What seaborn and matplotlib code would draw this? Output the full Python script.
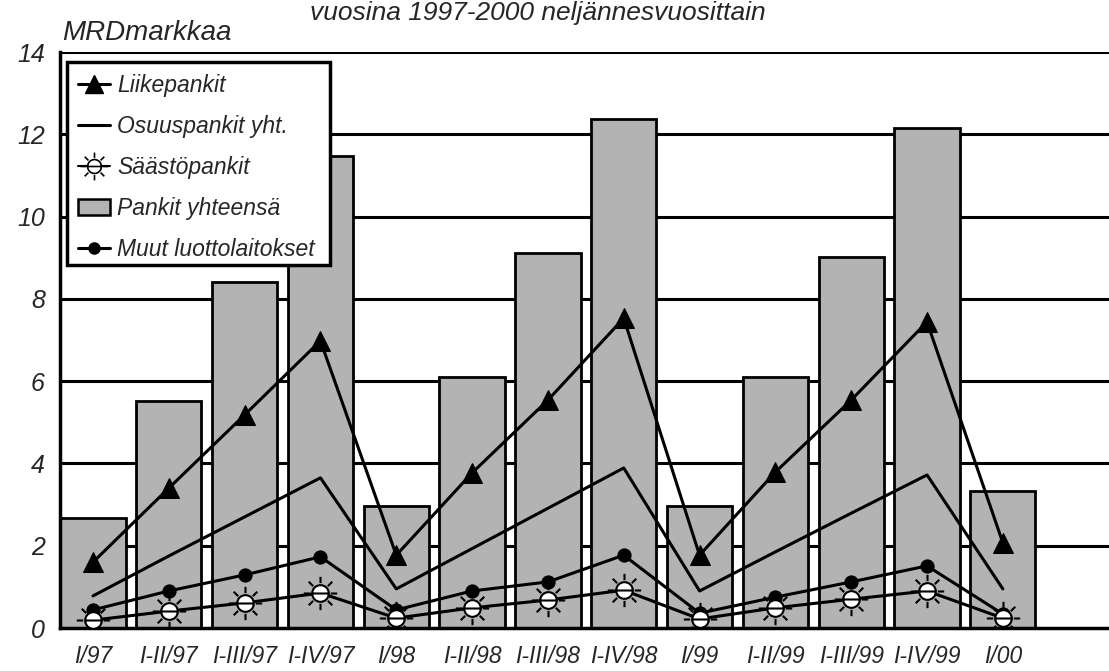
import numpy as np
import pandas as pd
import matplotlib
matplotlib.use("Agg")
import matplotlib.pyplot as plt
from matplotlib.path import Path
from matplotlib.lines import Line2D
from matplotlib.patches import Patch, Rectangle
import seaborn as sns

categories = ["I/97", "I-II/97", "I-III/97", "I-IV/97",
              "I/98", "I-II/98", "I-III/98", "I-IV/98",
              "I/99", "I-II/99", "I-III/99", "I-IV/99", "I/00"]
pankit_yhteensa = [2.67, 5.52, 8.41, 11.47, 2.97, 6.10, 9.12, 12.37,
                   2.97, 6.10, 9.02, 12.15, 3.33]
liikepankit = [1.60, 3.40, 5.18, 6.98, 1.77, 3.77, 5.54, 7.53,
               1.77, 3.79, 5.54, 7.44, 2.07]
osuuspankit = [0.78, 1.75, 2.70, 3.65, 0.95, 1.93, 2.91, 3.89,
               0.90, 1.85, 2.79, 3.72, 0.95]
saastopankit = [0.19, 0.41, 0.61, 0.85, 0.24, 0.49, 0.68, 0.92,
                0.22, 0.49, 0.70, 0.90, 0.24]
muut = [0.44, 0.90, 1.29, 1.73, 0.44, 0.90, 1.12, 1.77,
        0.36, 0.75, 1.12, 1.51, 0.34]
yticks = [0, 2, 4, 6, 8, 10, 12, 14]
title_text = "vuosina 1997-2000 neljännesvuosittain"
ylabel_text = "MRDmarkkaa"
legend_labels = ["Liikepankit", "Osuuspankit yht.", "Säästöpankit",
                 "Pankit yhteensä", "Muut luottolaitokset"]

sns.set_style("white")
FONT = ["Liberation Sans Narrow", "Liberation Sans", "DejaVu Sans"]
plt.rcParams["font.family"] = FONT
plt.rcParams["font.style"] = "italic"

W, H = 1109, 671
fig = plt.figure(figsize=(W / 100, H / 100), dpi=100)
ax_l, ax_r, ax_t, ax_b = 60, W, 52, 628
ax = fig.add_axes([ax_l / W, 1 - ax_b / H, (ax_r - ax_l) / W, (ax_b - ax_t) / H])

df = pd.DataFrame({"cat": categories, "total": pankit_yhteensa})
bar_color = "#b3b3b3"
sns.barplot(data=df, x="cat", y="total", order=categories, color=bar_color,
            width=0.86, edgecolor="black", linewidth=2.0, saturation=1,
            ax=ax, zorder=2)

# sun marker for Säästöpankit
r = 0.5
segs_v, segs_c = [], []
segs_v += [(-r, 0), (r, 0)]
segs_c += [Path.MOVETO, Path.LINETO]
for ang in np.deg2rad(np.arange(0, 360, 45)):
    segs_v += [(0.62 * np.cos(ang), 0.62 * np.sin(ang)),
               (1.0 * np.cos(ang), 1.0 * np.sin(ang))]
    segs_c += [Path.MOVETO, Path.LINETO]
sun = Path.make_compound_path(Path.circle((0, 0), r), Path(segs_v, segs_c))

xpos = np.arange(len(categories))
lw = 2.2
sns.lineplot(x=xpos, y=osuuspankit, ax=ax, color="black", lw=lw, zorder=4)
sns.lineplot(x=xpos, y=muut, ax=ax, color="black", lw=lw, marker="o",
             markersize=9.5, markerfacecolor="black", markeredgecolor="black", zorder=5)
sns.lineplot(x=xpos, y=saastopankit, ax=ax, color="black", lw=lw, marker=sun,
             markersize=24, markerfacecolor="white", markeredgecolor="black",
             markeredgewidth=1.5, zorder=6)
sns.lineplot(x=xpos, y=liikepankit, ax=ax, color="black", lw=lw, marker="^",
             markersize=15, markerfacecolor="black", markeredgecolor="black", zorder=7)

ax.set_xlim(-0.435, 13.4)
ax.set_ylim(0, 14)
ax.set_yticks(yticks)
ax.set_yticklabels([str(t) for t in yticks])
ax.set_xticks(xpos)
ax.set_xticklabels(categories)
ax.set_xlabel("")
ax.set_ylabel("")
for t in yticks[1:]:
    ax.axhline(t, color="black", lw=2.2, zorder=1)
ax.tick_params(axis="both", length=0)
ax.tick_params(axis="x", pad=12, labelsize=16.5)
ax.tick_params(axis="y", pad=11, labelsize=18)
for lab in ax.get_xticklabels() + ax.get_yticklabels():
    lab.set_fontstyle("italic")
    lab.set_family(FONT)
for side in ["left", "bottom"]:
    ax.spines[side].set_linewidth(2.5)
    ax.spines[side].set_color("black")
ax.spines["top"].set_visible(False)
ax.spines["right"].set_visible(False)

# legend box (frame drawn separately to match the reference's wider box)
def ax_frac(px, py):
    return ((px - ax_l) / (ax_r - ax_l), (ax_b - py) / (ax_b - ax_t))

bx0, by0 = ax_frac(67, 265)
bx1, by1 = ax_frac(330, 62)
ax.add_patch(Rectangle((bx0, by0), bx1 - bx0, by1 - by0, transform=ax.transAxes,
                       facecolor="white", edgecolor="black", lw=2.5, zorder=9,
                       clip_on=False))

handles = [
    Line2D([], [], color="black", lw=lw, marker="^", markersize=13),
    Line2D([], [], color="black", lw=lw),
    Line2D([], [], color="black", lw=1.5, marker=sun, markersize=20,
           markerfacecolor="white", markeredgecolor="black", markeredgewidth=1.2),
    Patch(facecolor=bar_color, edgecolor="black", linewidth=1.8),
    Line2D([], [], color="black", lw=lw, marker="o", markersize=8),
]
lx, ly = ax_frac(70, 66)
leg = ax.legend(handles, legend_labels, loc="upper left",
                bbox_to_anchor=(lx, ly), borderaxespad=0,
                frameon=False,
                prop={"family": FONT, "style": "italic", "size": 16.5},
                handlelength=1.4, handletextpad=0.3, labelspacing=0.78,
                borderpad=0.35)
leg.set_zorder(10)

fig.text(62 / W, 1 - 40 / H, ylabel_text, fontsize=20, style="italic",
         family=FONT, ha="left", va="baseline")
fig.text(310 / W, 1 - 20 / H, title_text, fontsize=19, style="italic",
         family=FONT, ha="left", va="baseline")

fig.savefig("out.png", dpi=100)
